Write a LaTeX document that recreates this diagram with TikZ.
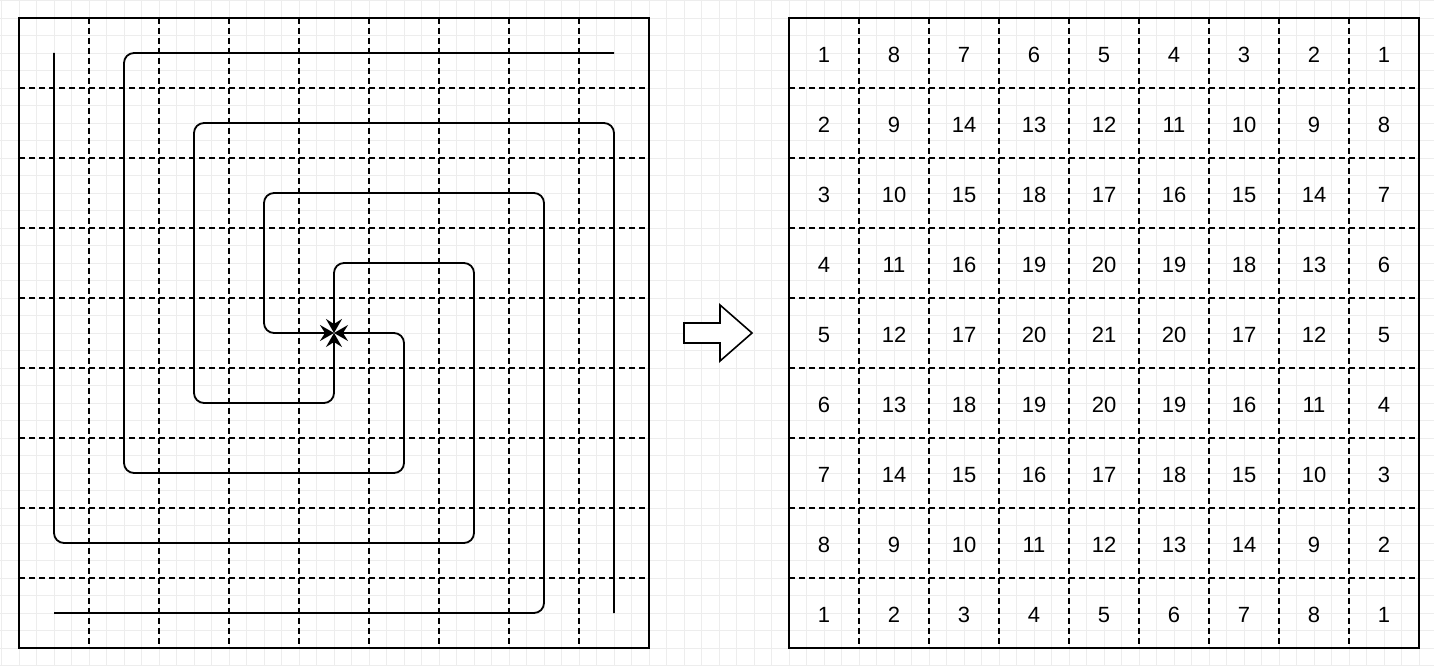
\documentclass[tikz,border=0pt]{standalone}
\usepackage{fontspec}
\setmainfont{Liberation Sans}
\usetikzlibrary{arrows.meta}

\tikzset{
  bggrid/.style={draw=black!7, line width=0.8pt},
  gridbox/.style={draw, line width=1.6pt},
  cellline/.style={draw, line width=1.5pt, dash pattern=on 6pt off 4pt},
  spiral/.style={draw, line width=1.8pt, rounded corners=10pt,
    -{Stealth[length=14pt, width=16pt, inset=5pt]}},
  bigarrow/.style={draw, line width=1.6pt, fill=white},
  num/.style={inner sep=0pt, font=\fontsize{22}{24}\selectfont}
}

\begin{document}
\begin{tikzpicture}[x=1pt, y=-1pt]
    \useasboundingbox (0,0) rectangle (1434,666);
    \fill[white] (0,0) rectangle (1434,666);

    % Light background grid
    \foreach \i in {0,...,81} {
      \draw[bggrid] (1.5+17.5*\i, 0) -- (1.5+17.5*\i, 666);
    }
    \foreach \i in {0,...,38} {
      \draw[bggrid] (0, 0.5+17.5*\i) -- (1434, 0.5+17.5*\i);
    }

    % Dashed cell lines of both boards
    \foreach \k in {1,...,8} {
      \draw[cellline] (19+70*\k, 18) -- (19+70*\k, 648);
      \draw[cellline] (19, 18+70*\k) -- (649, 18+70*\k);
      \draw[cellline] (789+70*\k, 18) -- (789+70*\k, 648);
      \draw[cellline] (789, 18+70*\k) -- (1419, 18+70*\k);
    }

    % Outer frames
    \draw[gridbox] (19,18) rectangle (649,648);
    \draw[gridbox] (789,18) rectangle (1419,648);

    % Cell centres of the left board
    \foreach \i in {1,...,9} {
      \foreach \j in {1,...,9} {
        \coordinate (p-\i-\j) at (70*\i-16, 70*\j-17);
      }
    }

    % Four spirals winding into the middle cell
    \draw[spiral] (p-1-1) -- (p-1-8) -- (p-7-8) -- (p-7-4) -- (p-5-4) -- (p-5-5);
    \draw[spiral] (p-9-1) -- (p-2-1) -- (p-2-7) -- (p-6-7) -- (p-6-5) -- (p-5-5);
    \draw[spiral] (p-9-9) -- (p-9-2) -- (p-3-2) -- (p-3-6) -- (p-5-6) -- (p-5-5);
    \draw[spiral] (p-1-9) -- (p-8-9) -- (p-8-3) -- (p-4-3) -- (p-4-5) -- (p-5-5);

    % Block arrow between the boards
    \draw[bigarrow] (684,323) -- (720,323) -- (720,305) -- (752,333)
      -- (720,361) -- (720,343) -- (684,343) -- cycle;

    % Distance values on the right board
    \foreach \row [count=\r] in {
      {1,8,7,6,5,4,3,2,1},
      {2,9,14,13,12,11,10,9,8},
      {3,10,15,18,17,16,15,14,7},
      {4,11,16,19,20,19,18,13,6},
      {5,12,17,20,21,20,17,12,5},
      {6,13,18,19,20,19,16,11,4},
      {7,14,15,16,17,18,15,10,3},
      {8,9,10,11,12,13,14,9,2},
      {1,2,3,4,5,6,7,8,1}} {
      \foreach \v [count=\c] in \row {
        \node[num] (n-\r-\c) at (754+70*\c, 70*\r-15) {\v};
      }
    }

  \end{tikzpicture}
\end{document}
